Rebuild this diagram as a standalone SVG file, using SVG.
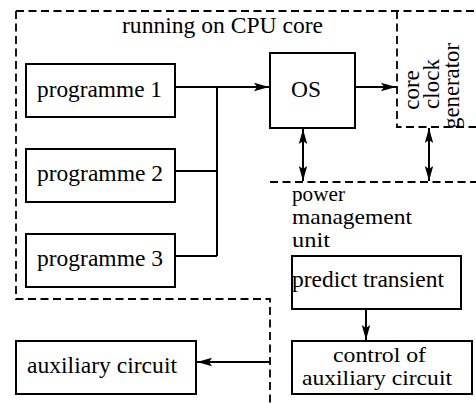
<svg xmlns="http://www.w3.org/2000/svg" width="476" height="403" viewBox="0 0 476 403" font-family="'Liberation Serif', 'DejaVu Serif', serif">
  <style>
    .box { fill: #fff; stroke: #000; stroke-width: 2; }
    .region { fill: none; stroke: #000; stroke-width: 1.8; stroke-dasharray: 8 4.5; }
    .wire { fill: none; stroke: #000; stroke-width: 2; }
    .lbl { font-size: 23px; fill: #000; }
    .small { font-size: 21px; }
  </style>
  <defs>
    <marker id="arrow" markerUnits="userSpaceOnUse" markerWidth="16" markerHeight="10" refX="15" refY="5" orient="auto-start-reverse">
      <path d="M0,0.8 L15,5 L0,9.2 L3,5 Z" fill="#000"/>
    </marker>
  </defs>

  <!-- dashed region outlines -->
  <g id="regions">
    <path class="region" d="M16,11 H476"/>
    <path class="region" d="M16,11 V299 H270 V403"/>
    <path class="region" d="M397,11 V127 H476"/>
    <path class="region" d="M270,182 H476"/>
  </g>

  <g id="cpu-label">
    <text class="lbl" x="122" y="33" textLength="201" lengthAdjust="spacingAndGlyphs">running on CPU core</text>
  </g>

  <g id="programme1">
    <rect class="box" x="26" y="64" width="149" height="53"/>
    <text class="lbl" x="37" y="97" textLength="125" lengthAdjust="spacingAndGlyphs">programme 1</text>
  </g>
  <g id="programme2">
    <rect class="box" x="26" y="149" width="149" height="53"/>
    <text class="lbl" x="37" y="181" textLength="126" lengthAdjust="spacingAndGlyphs">programme 2</text>
  </g>
  <g id="programme3">
    <rect class="box" x="26" y="234" width="149" height="53"/>
    <text class="lbl" x="37" y="266" textLength="126" lengthAdjust="spacingAndGlyphs">programme 3</text>
  </g>

  <g id="os">
    <rect class="box" x="270" y="53" width="85" height="75"/>
    <text class="lbl" x="291" y="97" textLength="30" lengthAdjust="spacingAndGlyphs">OS</text>
  </g>

  <g id="clock-generator">
    <text class="lbl" transform="translate(419,90) rotate(-90)" text-anchor="middle">core</text>
    <text class="lbl" transform="translate(439,84) rotate(-90)" text-anchor="middle">clock</text>
    <text class="lbl" transform="translate(459,86) rotate(-90)" text-anchor="middle" textLength="86" lengthAdjust="spacingAndGlyphs">generator</text>
  </g>

  <g id="power-management-unit">
    <text class="lbl small" x="292" y="201" textLength="53" lengthAdjust="spacingAndGlyphs">power</text>
    <text class="lbl small" x="292" y="224" textLength="120" lengthAdjust="spacingAndGlyphs">management</text>
    <text class="lbl small" x="292" y="247" textLength="38" lengthAdjust="spacingAndGlyphs">unit</text>
  </g>

  <g id="predict-transient">
    <rect class="box" x="292" y="256" width="169" height="53"/>
    <text class="lbl" x="292" y="287" textLength="152" lengthAdjust="spacingAndGlyphs">predict transient</text>
  </g>

  <g id="control-auxiliary">
    <rect class="box" x="292" y="341" width="180" height="53"/>
    <text class="lbl small" x="333" y="362" textLength="93" lengthAdjust="spacingAndGlyphs">control of</text>
    <text class="lbl small" x="302" y="385" textLength="150" lengthAdjust="spacingAndGlyphs">auxiliary circuit</text>
  </g>

  <g id="auxiliary-circuit">
    <rect class="box" x="16" y="341" width="180" height="53"/>
    <text class="lbl" x="27" y="373" textLength="150" lengthAdjust="spacingAndGlyphs">auxiliary circuit</text>
  </g>

  <!-- connectors -->
  <g id="connectors">
    <path class="wire" d="M175,87 H269" marker-end="url(#arrow)"/>
    <path class="wire" d="M217,87 V256"/>
    <path class="wire" d="M175,171 H217"/>
    <path class="wire" d="M175,256 H217"/>
    <path class="wire" d="M355,87 H396" marker-end="url(#arrow)"/>
    <path class="wire" d="M303,129 V181" marker-start="url(#arrow)" marker-end="url(#arrow)"/>
    <path class="wire" d="M429,128 V181" marker-start="url(#arrow)" marker-end="url(#arrow)"/>
    <path class="wire" d="M366,310 V340" marker-end="url(#arrow)"/>
    <path class="wire" d="M270,362 H197" marker-end="url(#arrow)"/>
  </g>
</svg>
